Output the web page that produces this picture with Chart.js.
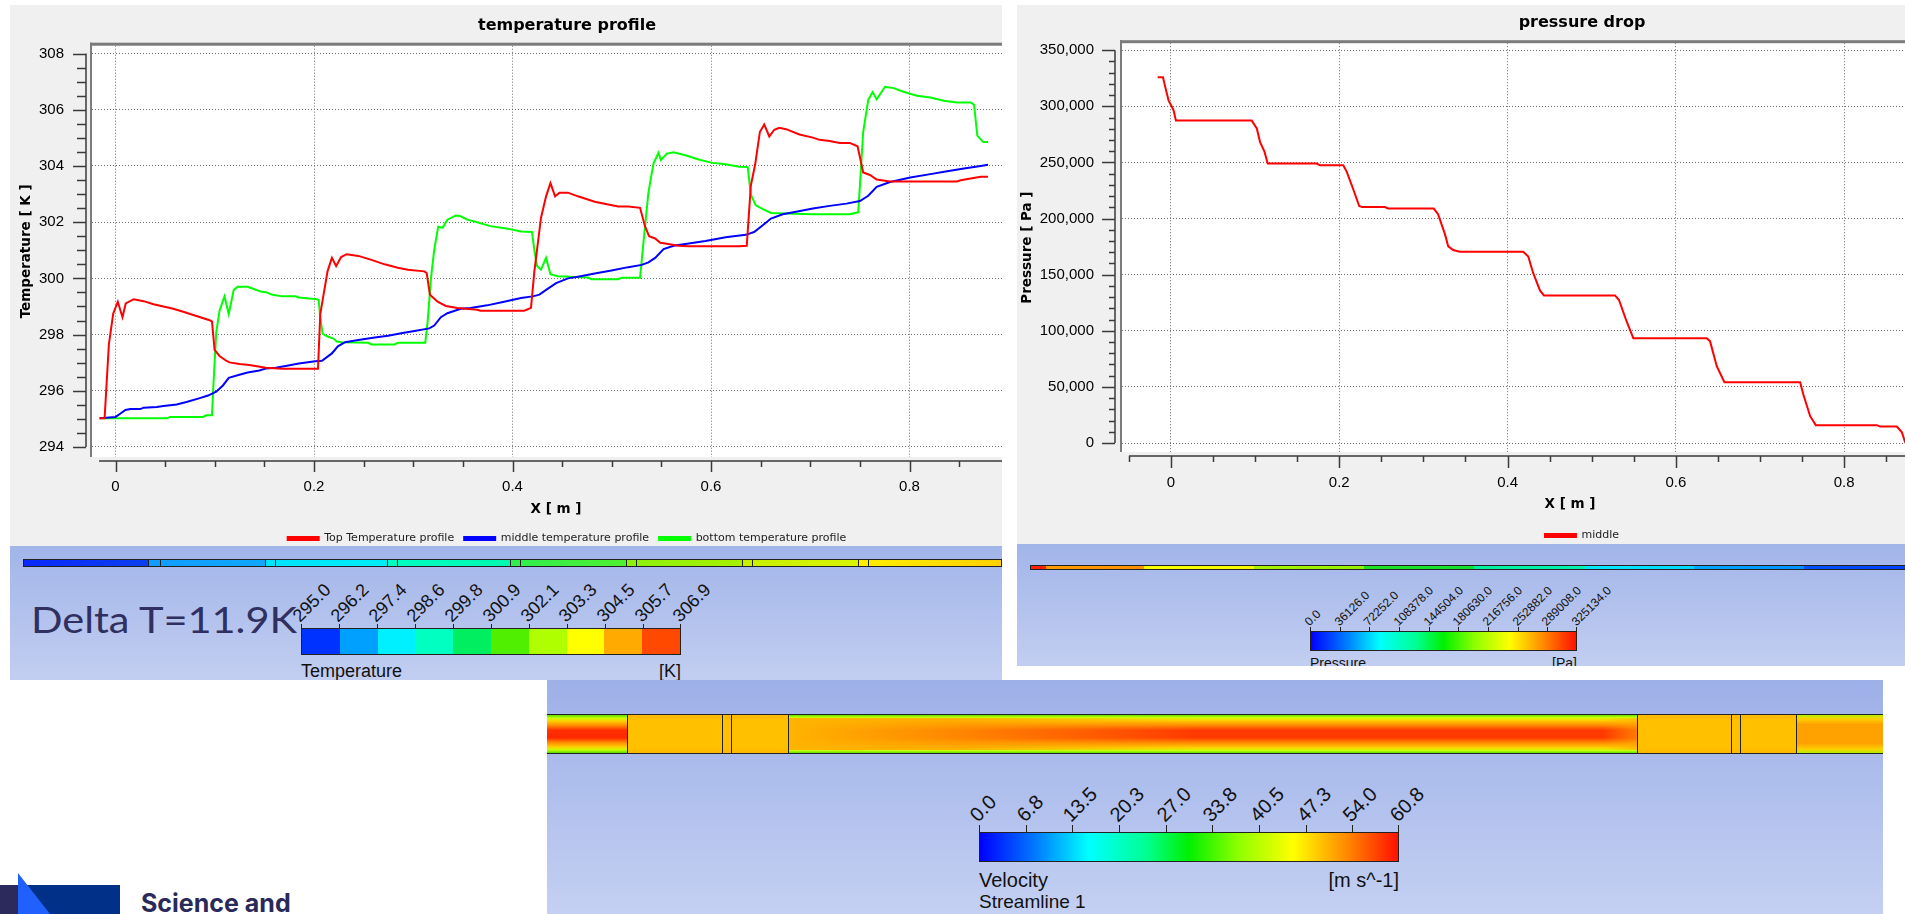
<!DOCTYPE html>
<html>
<head>
<meta charset="utf-8">
<script src="https://cdn.jsdelivr.net/npm/chart.js@4.4.1/dist/chart.umd.min.js"></script>
<style>
html, body { margin: 0; padding: 0; background: #fff; }
body { width: 1905px; height: 914px; position: relative; overflow: hidden; font-family: "Liberation Sans", Arial, sans-serif; }
.panel { position: absolute; background: #f0f0f0; overflow: hidden; }
.panel canvas { position: absolute; left: 0; top: 0; }
.slide { position: absolute; overflow: hidden; background: linear-gradient(#a2b5e9, #c2cef1); }
.abs { position: absolute; }
.txt { position: absolute; white-space: nowrap; color: #111; }
</style>
</head>
<body>

<div class="panel" style="left:10px;top:5px;width:992px;height:541px"><canvas id="tempChart" width="1114" height="549"></canvas></div>
<div class="panel" style="left:1017px;top:5px;width:888px;height:539px"><canvas id="presChart" width="1130" height="546"></canvas></div>

<div class="slide" id="tempSlide" style="left:10px;top:546px;width:992px;height:134px">
  <div class="abs" style="left:13px;top:13px;width:978px;height:6px;border:1px solid #222;background:linear-gradient(90deg,#0a28ff 0%,#0a40f0 12.8%,#109cff 12.8%,#10a8ff 24.7%,#00e4ff 24.7%,#00ecf8 37.2%,#00ffc4 37.2%,#00f8b0 49.8%,#30ee50 49.8%,#50f030 61.7%,#8cf010 61.7%,#a8f000 73.5%,#c8f000 73.5%,#d8f400 85.4%,#ffee00 85.4%,#ffd000 100%)"></div>
  <div id="deltaT" class="txt" style="left:21px;top:54px;font-family:Lato,'Open Sans',sans-serif;font-size:37px;line-height:37px;color:#2f3060;transform-origin:0 0">Delta T=11.9K</div>
  <div class="txt" style="left:291px;top:116px;font-size:18px;line-height:18px">Temperature</div>
  <div class="txt" style="left:641px;top:116px;width:30px;text-align:right;font-size:18px;line-height:18px">[K]</div>
</div>

<div class="slide" id="presSlide" style="left:1017px;top:544px;width:888px;height:122px">
  <div class="abs" style="left:13px;top:21px;width:880px;height:3px;border:1px solid #222;background:linear-gradient(90deg,#ff2000 0%,#ff2000 1.7%,#ff9a00 1.7%,#ff9000 12.8%,#ffff00 12.8%,#f8f800 25.3%,#a8f000 25.3%,#98ee00 37.8%,#20e020 37.8%,#10e030 50.3%,#00f0a0 50.3%,#00f0b0 62.9%,#00e8ff 62.9%,#00d8ff 75.3%,#00a8ff 75.3%,#0090ff 87.8%,#0050ff 87.8%,#0040ff 100%)"></div>
  <div class="txt" style="left:293px;top:112px;font-size:14px;line-height:14px">Pressure</div>
  <div class="txt" style="left:520px;top:112px;width:40px;text-align:right;font-size:14px;line-height:14px">[Pa]</div>
</div>

<div class="slide" id="velSlide" style="left:547px;top:680px;width:1336px;height:234px;background:linear-gradient(#9db0e8,#c4d0f2)">
  <div class="abs" style="left:0;top:35px;width:80px;height:38px;background:linear-gradient(#58d800 0%,#c8ff00 8%,#ffd000 16%,#ff8800 28%,#ff3000 40%,#ff2800 60%,#ff8800 72%,#ffd000 84%,#c8ff00 92%,#58d800 100%)"></div>
  <div class="abs" style="left:80px;top:35px;width:161px;height:38px;background:linear-gradient(#ffb800,#ffc000 15%,#ffc000 85%,#ffb800)"></div>
  <div class="abs" style="left:241px;top:35px;width:849px;height:38px;background:linear-gradient(#60e000 0%,#d0ff00 7%,#ffd000 14%,#ff9000 26%,#ff3a00 40%,#ff3a00 60%,#ff9000 74%,#ffd000 86%,#d0ff00 93%,#60e000 100%)"></div>
  <div class="abs" style="left:241px;top:38px;width:849px;height:32px;background:linear-gradient(90deg,#ffb400 0%,rgba(255,160,0,0.75) 20%,rgba(255,120,0,0) 48%,rgba(255,120,0,0) 96%,rgba(255,170,0,0.6) 100%)"></div>
  <div class="abs" style="left:1090px;top:35px;width:159px;height:38px;background:linear-gradient(#ffb800,#ffc000 15%,#ffc000 85%,#ffb800)"></div>
  <div class="abs" style="left:1249px;top:35px;width:87px;height:38px;background:linear-gradient(#b0f000 0%,#ffd000 10%,#ffa200 25%,#ffa200 75%,#ffd000 90%,#b0f000 100%)"></div>
  <div class="abs" style="left:0;top:34px;width:1336px;height:1px;background:#222"></div>
  <div class="abs" style="left:0;top:73px;width:1336px;height:1px;background:#222"></div>
  <div class="txt" style="left:432px;top:190px;font-size:20px;line-height:20px">Velocity</div>
  <div class="txt" style="left:432px;top:212px;font-size:19px;line-height:19px">Streamline 1</div>
  <div class="txt" style="left:752px;top:190px;width:100px;text-align:right;font-size:20px;line-height:20px">[m s^-1]</div>
</div>

<div class="abs" style="left:0;top:885px;width:18px;height:29px;background:#2b2a5c"></div>
<div class="abs" style="left:18px;top:885px;width:102px;height:29px;background:#003087"></div>
<div class="abs" style="left:18px;top:873px;width:32px;height:41px;background:#1f60ff;clip-path:polygon(0 0,100% 100%,0 100%)"></div>
<div class="txt" style="left:141px;top:891px;font-family:Inter,Roboto,sans-serif;font-weight:700;font-size:25px;line-height:25px;color:#2a2a5a">Science and</div>

<script>
// temperature profile (X in m, T in K)
const topX = [-0.016,-0.011,-0.0067,-0.0023,0.0023,0.007,0.0103,0.0183,0.0283,0.0383,0.0582,0.0682,0.0815,0.0948,0.0972,0.0998,0.1048,0.1115,0.1148,0.1248,0.1348,0.1514,0.1681,0.204,0.2063,0.2136,0.218,0.2223,0.2273,0.2329,0.2446,0.2579,0.2712,0.2845,0.2945,0.3111,0.3135,0.3168,0.3245,0.3328,0.3444,0.3644,0.3677,0.4118,0.4186,0.422,0.4287,0.4338,0.4382,0.4429,0.4473,0.4558,0.4659,0.4828,0.4964,0.5065,0.5167,0.5285,0.5336,0.5376,0.5437,0.5488,0.5538,0.5674,0.5775,0.6282,0.636,0.6401,0.6445,0.6492,0.6536,0.6587,0.6637,0.6688,0.6756,0.6891,0.7026,0.7094,0.7195,0.7297,0.7398,0.7476,0.75,0.7533,0.7601,0.7669,0.7804,0.848,0.8514,0.8717,0.8791];
const topT = [295.02,295.02,297.65,298.75,299.17,298.62,299.11,299.26,299.19,299.08,298.92,298.81,298.66,298.51,298.47,297.46,297.24,297.07,297.01,296.95,296.92,296.82,296.78,296.78,298.73,300.25,300.73,300.44,300.76,300.86,300.80,300.66,300.50,300.38,300.31,300.25,300.19,299.42,299.17,299.02,298.95,298.88,298.85,298.85,298.95,300.25,302.16,302.92,303.39,302.92,303.05,303.05,302.92,302.73,302.63,302.56,302.56,302.51,301.84,301.50,301.42,301.27,301.24,301.16,301.14,301.14,301.16,303.30,304.06,305.21,305.48,305.05,305.29,305.36,305.31,305.12,305.01,304.93,304.89,304.82,304.82,304.70,304.32,303.77,303.68,303.52,303.45,303.45,303.49,303.62,303.62];

const midX = [-0.016,0,0.005,0.01,0.015,0.025,0.0283,0.0416,0.0483,0.0616,0.0715,0.0849,0.0932,0.1015,0.1082,0.1141,0.1248,0.1331,0.1448,0.1514,0.1614,0.1714,0.1847,0.2013,0.208,0.218,0.224,0.2313,0.2446,0.2612,0.2745,0.2879,0.3012,0.3161,0.3211,0.3278,0.3344,0.3478,0.3577,0.3744,0.3915,0.4085,0.4203,0.4271,0.4338,0.4439,0.4558,0.4659,0.4828,0.4997,0.5167,0.5302,0.5369,0.5437,0.5522,0.5623,0.5741,0.5944,0.6147,0.635,0.6434,0.6518,0.6604,0.6722,0.6857,0.7026,0.7195,0.7364,0.75,0.7584,0.7669,0.7804,0.8007,0.821,0.8379,0.8548,0.8717,0.8791];
const midT = [295.02,295.07,295.19,295.32,295.35,295.35,295.40,295.42,295.46,295.51,295.60,295.74,295.83,295.97,296.19,296.46,296.57,296.65,296.72,296.79,296.82,296.88,296.97,297.05,297.07,297.33,297.58,297.73,297.81,297.90,297.96,298.05,298.13,298.22,298.32,298.62,298.76,298.92,298.95,299.04,299.17,299.30,299.36,299.42,299.59,299.83,300.00,300.06,300.17,300.28,300.40,300.48,300.57,300.73,301.04,301.16,301.22,301.33,301.46,301.55,301.65,301.88,302.13,302.28,302.37,302.49,302.58,302.66,302.75,302.94,303.26,303.43,303.59,303.71,303.81,303.91,304.00,304.04];

const botX = [-0.016,0.0516,0.0549,0.0882,0.0915,0.0972,0.0982,0.1015,0.1048,0.1098,0.1141,0.1191,0.1231,0.1331,0.1378,0.1464,0.1514,0.1581,0.1681,0.1814,0.1847,0.203,0.2047,0.2063,0.2087,0.213,0.2196,0.223,0.228,0.2546,0.2579,0.2812,0.2845,0.3121,0.3145,0.3178,0.3211,0.3251,0.3295,0.3344,0.3428,0.3478,0.3544,0.3644,0.3777,0.3949,0.4085,0.4196,0.422,0.4247,0.4287,0.4338,0.4382,0.4456,0.4761,0.4795,0.5065,0.5099,0.5285,0.5319,0.5369,0.542,0.5471,0.5495,0.5555,0.5623,0.5741,0.5876,0.6012,0.6147,0.6282,0.637,0.6401,0.6451,0.6518,0.6604,0.6756,0.7026,0.7398,0.7483,0.75,0.7533,0.7584,0.7628,0.7669,0.7753,0.7838,0.7939,0.8074,0.821,0.8345,0.848,0.8616,0.865,0.8683,0.8744,0.8791];
const botT = [295.02,295.02,295.07,295.07,295.13,295.13,295.93,298.09,298.85,299.36,298.73,299.59,299.70,299.70,299.64,299.53,299.51,299.42,299.36,299.36,299.32,299.26,299.23,298.60,298.03,297.94,297.86,297.75,297.73,297.71,297.65,297.65,297.71,297.71,298.47,300.00,301.01,301.84,301.80,302.09,302.24,302.21,302.09,302.00,301.86,301.77,301.67,301.65,301.01,300.44,300.31,300.73,300.15,300.08,300.03,299.97,299.97,300.02,300.02,301.27,303.05,304.09,304.47,304.21,304.44,304.49,304.38,304.23,304.11,304.06,303.97,303.96,302.98,302.60,302.47,302.33,302.31,302.28,302.28,302.35,303.30,305.21,306.35,306.63,306.37,306.82,306.77,306.64,306.50,306.44,306.32,306.26,306.26,306.18,305.08,304.85,304.85];

// pressure drop along the middle line (X in m, p in Pa)
const presX = [-0.0158,-0.0095,-0.0067,-0.0028,0.0012,0.0032,0.0059,0.096,0.102,0.1059,0.1111,0.115,0.1731,0.1771,0.2047,0.2087,0.2166,0.2237,0.2273,0.2542,0.2581,0.3123,0.3174,0.3255,0.3295,0.3354,0.3433,0.4186,0.4246,0.4305,0.4385,0.4432,0.5277,0.5324,0.5415,0.5495,0.6367,0.6406,0.6486,0.6577,0.7477,0.7516,0.7596,0.7663,0.8389,0.8428,0.8626,0.8686,0.8725,0.879];
const presP = [325795,325795,316878,305094,299362,296177,287260,287260,280254,268152,259553,249044,249044,247451,247451,242037,226114,211146,210190,210190,208916,208916,203821,186305,175159,171974,170381,170381,166241,151273,135987,131528,131528,127388,108280,93312,93312,90764,68471,54140,54140,42993,23885,15924,15924,14650,14650,9554,637,0];

// pressure axis: minor tick every 10,000 Pa from 0 to 350,000, labels every 50,000
const presTickStep = 10000;
const presTickMax = 350000;

// contour legends
const tempBarLabels = ["295.0","296.2","297.4","298.6","299.8","300.9","302.1","303.3","304.5","305.7","306.9"];
const tempBarColors = ["#0032ff","#00a0ff","#00f0ff","#00ffc0","#00ee60","#50ee00","#b0ff00","#ffff00","#ffaa00","#ff4800"];
const presBarLabels = ["0.0","36126.0","72252.0","108378.0","144504.0","180630.0","216756.0","252882.0","289008.0","325134.0"];
const velBarLabels = ["0.0","6.8","13.5","20.3","27.0","33.8","40.5","47.3","54.0","60.8"];
const rainbow = "linear-gradient(90deg,#0000ff 0%,#0078ff 13%,#00ffff 26%,#00ff90 40%,#00f000 50%,#90ff00 62%,#ffff00 75%,#ff9000 87%,#ff1000 100%)";

function addBar(parent, o) {
  const bar = document.createElement('div');
  bar.style.cssText = `position:absolute;left:${o.x}px;top:${o.y}px;width:${o.w}px;height:${o.h}px;border:1px solid #222;box-sizing:border-box;background:${o.bg}`;
  parent.appendChild(bar);
  const n = o.labels.length;
  o.labels.forEach((t, i) => {
    const tx = o.x + i * o.w / (n - 1);
    const tick = document.createElement('div');
    tick.style.cssText = `position:absolute;left:${Math.round(tx) - (i === n - 1 ? 1 : 0)}px;top:${o.y - o.tick}px;width:1px;height:${o.tick}px;background:#222`;
    parent.appendChild(tick);
    const lab = document.createElement('div');
    lab.textContent = t;
    lab.style.cssText = `position:absolute;left:${tx + o.dx}px;top:${o.y - o.dy - o.fs}px;font-size:${o.fs}px;line-height:${o.fs}px;height:${o.fs}px;white-space:nowrap;transform-origin:0 100%;transform:rotate(-45deg);color:#111`;
    parent.appendChild(lab);
  });
}

const stepBg = 'linear-gradient(90deg,' + tempBarColors.map((c, i) => `${c} ${i * 10}% ${(i + 1) * 10}%`).join(',') + ')';
addBar(document.getElementById('tempSlide'), {x: 291, y: 82, w: 380, h: 27, bg: stepBg, labels: tempBarLabels, tick: 4, fs: 18, dx: 1, dy: 3});
addBar(document.getElementById('presSlide'), {x: 293, y: 87, w: 267, h: 20, bg: rainbow, labels: presBarLabels, tick: 4, fs: 12, dx: 1, dy: 3});
addBar(document.getElementById('velSlide'), {x: 432, y: 152, w: 420, h: 30, bg: rainbow, labels: velBarLabels, tick: 7, fs: 20, dx: 1, dy: 7});

// black section lines on the contour strips
[80, 175, 184, 241, 1090, 1184, 1193, 1249].forEach(x => {
  const d = document.createElement('div');
  d.style.cssText = `position:absolute;left:${x}px;top:35px;width:1px;height:38px;background:#222`;
  document.getElementById('velSlide').appendChild(d);
});
[125,137,242,252,364,374,487,497,603,613,719,729,835,845,978].forEach(x => {
  const d = document.createElement('div');
  d.style.cssText = `position:absolute;left:${13 + x}px;top:13px;width:1px;height:8px;background:#222`;
  document.getElementById('tempSlide').appendChild(d);
});

const dT = document.getElementById('deltaT');
dT.style.transform = `scaleX(${266 / dT.getBoundingClientRect().width})`;

Chart.defaults.font.family = "'DejaVu Sans', sans-serif";
Chart.defaults.color = '#000';
const tickFont = {family: "'Liberation Sans', Arial, sans-serif", size: 15};

const isMult = (v, s) => Math.abs(v / s - Math.round(v / s)) < 1e-6;
const pts = (xs, ys) => xs.map((x, i) => ({x: x, y: ys[i]}));
const thousands = v => String(Math.round(v)).replace(/\B(?=(\d{3})+(?!\d))/g, ',');

// sunken plot frame plus the axis lines and tick marks, drawn from the chart's scales
const framePlugin = {
  id: 'frame',
  beforeDraw(chart) {
    const {ctx, chartArea: a} = chart;
    ctx.save();
    ctx.fillStyle = '#fff';
    ctx.fillRect(a.left, a.top, a.right - a.left, a.bottom - a.top);
    ctx.restore();
  },
  afterDraw(chart, args, o) {
    const {ctx, chartArea: a} = chart;
    const x = chart.scales.x, y = chart.scales.y;
    ctx.save();
    ctx.fillStyle = '#7c7c7c';
    ctx.fillRect(a.left - 2, a.top - 3, a.right - a.left + 2, 3);
    ctx.fillRect(a.left - 2, a.top - 3, 2, a.bottom - a.top + 3);
    ctx.strokeStyle = '#3a3a3a';
    ctx.lineWidth = 1.5;
    const ax = a.left - o.yGap;
    ctx.beginPath();
    ctx.moveTo(ax, y.getPixelForValue(o.yFrom));
    ctx.lineTo(ax, y.getPixelForValue(o.yTo));
    y.ticks.forEach(t => {
      if (t.value < o.yFrom || t.value > o.yTo) return;
      const py = Math.round(y.getPixelForValue(t.value)) + 0.5;
      const len = isMult(t.value, o.yMajor) ? o.yMajLen : o.yMinLen;
      ctx.moveTo(ax - len, py);
      ctx.lineTo(ax, py);
    });
    const ay = a.bottom + o.xGap;
    ctx.moveTo(x.getPixelForValue(o.xFrom), ay);
    ctx.lineTo(a.right, ay);
    x.ticks.forEach(t => {
      if (t.value < o.xFrom) return;
      const px = Math.round(x.getPixelForValue(t.value)) + 0.5;
      const len = isMult(t.value, o.xMajor) ? o.xMajLen : o.xMinLen;
      ctx.moveTo(px, ay);
      ctx.lineTo(px, ay + len);
    });
    ctx.stroke();
    ctx.restore();
  }
};

function xScale(min, max, height, pad, titlePad) {
  return {
    type: 'linear', min: min, max: max,
    afterFit: s => { s.height = height; },
    ticks: {stepSize: 0.05, autoSkip: false, maxRotation: 0, includeBounds: false, padding: pad, font: tickFont,
      callback: v => isMult(v, 0.2) ? String(Math.round(v * 10) / 10) : ''},
    grid: {drawTicks: false, lineWidth: 1, color: c => isMult(c.tick.value, 0.2) ? '#6e6e6e' : 'rgba(0,0,0,0)'},
    border: {display: false, dash: [1, 2]},
    title: {display: true, text: 'X [ m ]', font: {size: 13.5, weight: 'bold'}, padding: {top: 0, bottom: titlePad}}
  };
}

// empty right-hand margin of the original plot, so titles/legends stay centred on the whole canvas
function rightMargin(w) {
  return {
    type: 'linear', position: 'right', display: true,
    afterFit: s => { s.width = w; },
    ticks: {display: false}, grid: {display: false}, border: {display: false}, title: {display: false}
  };
}

const common = {
  responsive: false, animation: false, devicePixelRatio: 1,
  layout: {padding: 0},
  elements: {point: {radius: 0}, line: {borderWidth: 2, tension: 0}},
};

new Chart(document.getElementById('tempChart'), {
  type: 'line',
  data: {datasets: [
    {label: 'Top Temperature profile', data: pts(topX, topT), borderColor: '#ff0000', backgroundColor: '#ff0000'},
    {label: 'middle temperature profile', data: pts(midX, midT), borderColor: '#0000ff', backgroundColor: '#0000ff'},
    {label: 'bottom temperature profile', data: pts(botX, botT), borderColor: '#00ff00', backgroundColor: '#00ff00'}
  ]},
  options: Object.assign({}, common, {
    plugins: {
      title: {display: true, text: 'temperature profile', font: {size: 16, weight: 'bold'}, padding: {top: 11.5, bottom: 10}},
      legend: {position: 'bottom', labels: {boxWidth: 31, boxHeight: 3, font: {size: 11}, color: '#222', padding: 10}},
      tooltip: {enabled: false},
      frame: {yGap: 6, yFrom: 294, yTo: 308, yMajor: 2, yMajLen: 13, yMinLen: 9, xGap: 4, xFrom: -0.0166, xMajor: 0.2, xMajLen: 11, xMinLen: 6}
    },
    scales: {
      x: xScale(-0.0237, 0.9113, 66, 21, 5),
      y: {
        type: 'linear', min: 293.644, max: 308.28,
        afterFit: s => { s.width = 82; },
        ticks: {stepSize: 0.5, autoSkip: false, includeBounds: false, padding: 28, font: tickFont,
          callback: v => isMult(v, 2) ? String(Math.round(v)) : ''},
        grid: {drawTicks: false, lineWidth: 1, color: c => isMult(c.tick.value, 2) ? '#6e6e6e' : 'rgba(0,0,0,0)'},
        border: {display: false, dash: [1, 2]},
        title: {display: true, text: 'Temperature [ K ]', font: {size: 13.5, weight: 'bold'}, padding: {top: 8, bottom: 0}}
      },
      yR: rightMargin(104)
    }
  }),
  plugins: [framePlugin]
});

new Chart(document.getElementById('presChart'), {
  type: 'line',
  data: {datasets: [
    {label: 'middle', data: pts(presX, presP), borderColor: '#ff0000', backgroundColor: '#ff0000'}
  ]},
  options: Object.assign({}, common, {
    plugins: {
      title: {display: true, text: 'pressure drop', font: {size: 16, weight: 'bold'}, padding: {top: 8, bottom: 11}},
      legend: {position: 'bottom', labels: {boxWidth: 31, boxHeight: 3, font: {size: 11}, color: '#222', padding: 10}},
      tooltip: {enabled: false},
      frame: {yGap: 7, yFrom: 0, yTo: 350000, yMajor: 50000, yMajLen: 13, yMinLen: 6, xGap: 4, xFrom: -0.05, xMajor: 0.2, xMajLen: 12, xMinLen: 6}
    },
    scales: {
      x: xScale(-0.0582, 1.0066, 68, 22, 7),
      y: {
        type: 'linear', min: -8015, max: 356234,
        afterFit: s => { s.width = 105; },
        // Chart.js snaps big step sizes to the min/max range, so the tick values are set directly
        afterBuildTicks: s => {
          const t = [];
          for (let v = 0; v <= presTickMax; v += presTickStep) t.push({value: v});
          s.ticks = t;
        },
        ticks: {autoSkip: false, padding: 28, font: tickFont,
          callback: v => isMult(v, 50000) ? thousands(v) : ''},
        grid: {drawTicks: false, lineWidth: 1, color: c => isMult(c.tick.value, 50000) ? '#6e6e6e' : 'rgba(0,0,0,0)'},
        border: {display: false, dash: [1, 2]},
        title: {display: true, text: 'Pressure [ Pa ]', font: {size: 13.5, weight: 'bold'}, padding: {top: 2, bottom: 0}}
      },
      yR: rightMargin(129)
    }
  }),
  plugins: [framePlugin]
});
</script>
</body>
</html>
